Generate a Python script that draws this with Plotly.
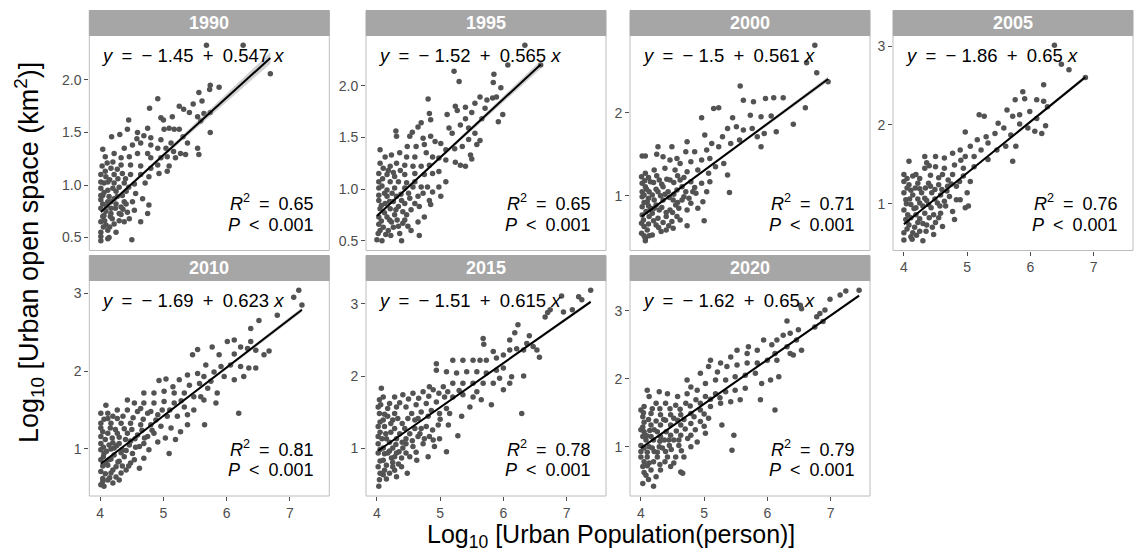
import numpy as np
import plotly.graph_objects as go

# ---------------- data ----------------
years = ["1990", "1995", "2000", "2005", "2010", "2015", "2020"]
intercepts = [-1.45, -1.52, -1.5, -1.86, -1.69, -1.51, -1.62]
slopes = [0.547, 0.565, 0.561, 0.65, 0.623, 0.615, 0.65]
r_squared = ["0.65", "0.65", "0.71", "0.76", "0.81", "0.78", "0.79"]
p_values = ["0.001"] * 7
ci_end = [0.055, 0.04, 0.03, 0.025, 0.03, 0.025, 0.02]   # half-width of the grey band at the right end
x_ticks = [4, 5, 6, 7]

pts_1990 = [(6.69,2.06),(5.68,2.33),(6.26,2.33),(5.88,1.93),(5.74,1.95),(5.73,1.91),(5.56,1.88),(5.61,1.80),(4.91,1.82),(5.47,1.77),
(5.25,1.75),(5.32,1.72),(4.78,1.73),(5.74,1.69),(5.64,1.68),(5.41,1.69),(4.96,1.64),(5.0,1.62),(5.14,1.65),(5.54,1.65),(5.59,1.61),
(4.45,1.62),(4.18,1.46),(4.31,1.48),(4.43,1.53),(4.59,1.50),(4.75,1.54),(4.58,1.44),(4.69,1.47),(4.8,1.45),(5.01,1.53),(5.09,1.54),
(5.17,1.53),(5.25,1.53),(4.96,1.43),(5.74,1.50),(5.31,1.46),(5.38,1.40),(5.54,1.35),(5.56,1.29),(5.35,1.29),(5.12,1.40),(5.04,1.35),
(4.04,1.34),(4.11,1.21),(4.22,1.30),(4.38,1.35),(4.51,1.38),(4.64,1.40),(4.80,1.38),(4.91,1.35),(4.75,1.30),(4.59,1.30),(4.46,1.27),
(4.33,1.26),(4.80,1.26),(4.96,1.26),(5.06,1.27),(5.19,1.26),(5.27,1.30),(5.16,1.32),(5.09,1.18),(4.91,1.19),(4.80,1.16),(4.64,1.18),
(4.48,1.19),(4.33,1.19),(4.17,1.16),(4.01,1.10),(4.09,1.08),(4.22,1.10),(4.35,1.11),(4.48,1.10),(4.64,1.10),(4.77,1.08),(4.93,1.11),
(5.06,1.13),(4.71,1.02),(4.54,1.01),(4.38,1.02),(4.22,1.02),(4.06,1.02),(4.01,0.97),(4.12,0.95),(4.25,0.94),(4.41,0.94),(4.56,0.92),
(4.67,0.87),(4.77,0.81),(4.75,0.73),(4.64,0.65),(4.51,0.84),(4.38,0.84),(4.25,0.82),(4.12,0.84),(4.01,0.86),(4.01,0.78),(4.06,0.71),
(4.17,0.73),(4.30,0.73),(4.43,0.74),(4.54,0.76),(4.01,0.65),(4.09,0.62),(4.22,0.63),(4.38,0.65),(4.12,0.57),(4.25,0.55),(4.01,0.47),
(4.12,0.49),(4.50,0.48),(4.14,0.50),(4.04,0.90),(4.14,0.89),(4.27,0.89),(4.04,0.82),(4.17,0.78),(4.33,0.79),(4.46,0.68),(4.04,0.70),
(4.19,0.68),(4.01,0.55),(4.17,0.84),(4.01,1.03),(4.12,1.03),(4.30,0.98),(4.01,0.90),(4.09,0.75),(4.22,0.87),(4.33,0.72),(4.01,0.51),
(4.07,0.66),(4.03,1.18),(4.08,1.13),(4.15,1.05),(4.20,0.97),(4.28,1.06),(4.35,0.90),(4.41,0.82),(4.06,0.93),(4.10,0.80),(4.24,0.78),
(4.30,0.66),(4.15,0.60),(4.05,0.60),(4.20,1.22),(4.27,1.15),(4.40,1.06),(4.45,0.98),(4.36,0.77),(4.08,1.27),(4.16,0.70)]

pts_1995 = [(6.34,2.39),(6.07,2.20),(6.59,2.20),(5.22,2.14),(5.30,2.04),(5.85,2.11),(5.84,2.03),(5.96,1.98),(4.81,1.87),(5.24,1.80),
(5.40,1.79),(5.11,1.72),(5.55,1.83),(5.63,1.89),(5.74,1.86),(5.83,1.88),(5.89,1.89),(5.50,1.74),(5.71,1.78),(5.66,1.68),(5.99,1.72),
(5.92,1.65),(5.40,1.68),(5.27,1.76),(4.83,1.73),(4.85,1.67),(4.70,1.64),(4.56,1.55),(4.30,1.56),(4.31,1.51),(4.52,1.51),(4.65,1.60),
(5.14,1.59),(5.19,1.54),(5.32,1.62),(5.45,1.59),(5.55,1.54),(5.63,1.47),(5.58,1.43),(5.45,1.48),(4.85,1.51),(4.73,1.49),(4.92,1.46),
(4.48,1.41),(4.62,1.41),(4.75,1.43),(5.01,1.44),(5.09,1.38),(5.23,1.39),(5.35,1.41),(5.48,1.33),(5.50,1.29),(5.24,1.26),(5.32,1.23),
(5.40,1.22),(4.05,1.38),(4.05,1.25),(4.13,1.31),(4.23,1.33),(4.36,1.35),(4.47,1.31),(4.60,1.31),(4.78,1.35),(4.88,1.31),(4.98,1.30),
(5.09,1.28),(4.83,1.23),(4.70,1.22),(4.57,1.22),(4.44,1.23),(4.31,1.25),(4.21,1.22),(4.10,1.20),(4.03,1.15),(4.16,1.14),(4.28,1.12),
(4.44,1.14),(4.60,1.15),(4.75,1.14),(4.88,1.15),(4.98,1.17),(5.09,1.07),(4.98,1.02),(4.88,0.97),(5.01,0.93),(4.83,0.89),(4.85,0.85),
(4.75,0.73),(4.65,0.68),(4.54,0.60),(4.67,0.55),(4.39,0.50),(4.0,0.51),(4.08,0.50),(4.05,0.60),(4.18,0.60),(4.34,0.64),(4.44,0.70),
(4.03,0.73),(4.16,0.73),(4.28,0.75),(4.41,0.78),(4.54,0.80),(4.67,0.83),(4.03,0.89),(4.13,0.86),(4.26,0.88),(4.39,0.89),(4.52,0.91),
(4.65,0.93),(4.03,1.01),(4.16,0.99),(4.28,1.01),(4.44,1.01),(4.57,1.02),(4.70,1.02),(4.80,1.02),(4.03,1.07),(4.05,0.81),(4.10,0.63),
(4.21,0.81),(4.34,0.83),(4.44,0.86),(4.60,1.07),(4.34,1.07),(4.21,1.07),(4.03,0.94),(4.16,0.93),(4.03,0.66),(4.23,0.68),(4.36,0.57),
(4.49,0.64),(4.73,0.96),(4.60,0.86),(4.08,1.03),(4.12,0.96),(4.20,0.88),(4.24,0.96),(4.31,0.93),(4.38,0.95),(4.07,0.84),(4.12,0.77),
(4.20,0.70),(4.26,0.63),(4.32,0.70),(4.07,0.69),(4.14,0.56),(4.22,0.55),(4.09,1.10),(4.18,1.18),(4.26,1.16),(4.37,1.18),(4.47,1.06),
(4.50,0.96),(4.41,0.67),(4.30,0.80),(4.02,0.57),(4.47,0.75)]

pts_2000 = [(6.75,2.81),(6.62,2.60),(6.78,2.48),(6.96,2.37),(6.60,2.06),(6.41,1.86),(5.57,2.32),(5.62,2.15),(5.78,2.13),(5.97,2.17),
(6.10,2.18),(6.25,2.18),(5.15,2.05),(5.23,2.06),(4.96,1.94),(5.45,1.94),(5.73,1.97),(5.90,1.95),(6.06,1.96),(6.14,1.77),(5.95,1.75),
(5.90,1.59),(5.37,1.81),(5.51,1.83),(5.62,1.79),(5.76,1.81),(5.84,1.71),(5.56,1.67),(5.42,1.63),(5.29,1.71),(5.23,1.59),(5.01,1.73),
(5.12,1.63),(5.04,1.55),(4.85,1.53),(4.73,1.65),(4.71,1.53),(4.57,1.45),(4.27,1.59),(4.49,1.59),(4.02,1.48),(4.07,1.48),(4.25,1.50),
(4.35,1.47),(4.46,1.43),(4.62,1.39),(4.79,1.41),(4.96,1.43),(5.09,1.45),(5.18,1.35),(5.31,1.39),(5.37,1.25),(5.40,1.04),(5.07,1.27),
(4.90,1.31),(4.73,1.29),(4.54,1.31),(4.38,1.33),(4.21,1.31),(4.07,1.27),(4.02,1.15),(4.15,1.17),(4.29,1.19),(4.46,1.19),(4.62,1.19),
(4.79,1.17),(4.96,1.15),(5.09,1.17),(5.04,1.05),(4.87,1.03),(4.71,1.05),(4.57,1.07),(4.43,1.05),(4.27,1.05),(4.13,1.05),(4.02,0.99),
(4.10,0.93),(4.21,0.95),(4.35,0.95),(4.51,0.95),(4.65,0.95),(4.79,0.91),(4.98,0.93),(4.90,0.85),(4.73,0.83),(4.60,0.85),(4.46,0.83),
(4.29,0.83),(4.15,0.85),(4.02,0.87),(4.02,0.77),(4.13,0.75),(4.27,0.73),(4.40,0.75),(4.57,0.75),(4.49,0.69),(5.0,0.70),(4.73,0.64),
(4.40,0.59),(4.24,0.65),(4.10,0.59),(4.01,0.67),(4.07,0.49),(4.01,0.55),(4.07,0.46),(4.18,0.53),(4.32,0.57),(4.07,1.11),(4.01,1.23),
(4.35,1.11),(4.65,1.11),(4.02,1.05),(4.21,0.85),(4.04,0.71),(4.15,0.83),(4.51,0.61),(4.62,0.71),(4.05,1.01),(4.09,1.08),(4.12,0.97),
(4.18,1.01),(4.24,1.08),(4.31,1.00),(4.38,1.02),(4.45,0.98),(4.52,1.02),(4.58,0.92),(4.68,0.99),(4.05,0.92),(4.08,0.81),(4.12,0.88),
(4.18,0.79),(4.24,0.89),(4.33,0.86),(4.40,0.80),(4.50,0.80),(4.55,0.89),(4.05,0.63),(4.12,0.66),(4.20,0.70),(4.28,0.62),(4.35,0.68),
(4.44,0.64),(4.05,0.52),(4.13,0.52),(4.06,1.18),(4.12,1.22),(4.20,1.16),(4.25,1.24),(4.33,1.14),(4.41,1.20),(4.52,1.16),(4.58,1.24),
(4.68,1.22),(4.82,1.05),(4.76,0.97),(4.85,1.10)]

pts_2005 = [(6.38,3.01),(6.49,2.77),(6.61,2.70),(6.21,2.51),(5.88,2.42),(5.76,2.32),(5.91,2.33),(6.10,2.32),(6.21,2.30),(6.27,2.23),
(5.19,2.13),(5.27,2.11),(4.97,1.91),(5.63,2.19),(5.72,2.11),(5.83,2.13),(5.99,2.17),(6.10,2.08),(6.24,1.99),(5.96,1.96),(6.07,1.92),
(6.18,1.89),(5.83,2.01),(5.49,2.02),(5.58,1.96),(5.44,1.89),(5.69,1.87),(5.77,1.73),(5.61,1.73),(5.30,1.85),(5.16,1.81),(5.33,1.77),
(5.47,1.68),(5.22,1.68),(5.05,1.73),(4.89,1.68),(4.77,1.64),(4.97,1.60),(5.11,1.60),(5.33,1.56),(5.72,1.54),(5.11,1.47),(4.94,1.45),
(4.80,1.49),(4.64,1.58),(4.50,1.60),(4.33,1.60),(4.36,1.52),(4.08,1.54),(4.0,1.37),(4.19,1.37),(4.33,1.45),(4.50,1.47),(4.64,1.45),
(4.77,1.37),(4.94,1.35),(5.05,1.28),(5.00,1.14),(4.89,1.05),(4.97,0.95),(5.02,0.97),(4.80,0.80),(4.77,0.90),(4.66,0.97),(4.83,1.22),
(4.69,1.22),(4.55,1.24),(4.39,1.26),(4.22,1.26),(4.08,1.24),(4.0,1.14),(4.14,1.11),(4.28,1.14),(4.44,1.14),(4.58,1.11),(4.72,1.09),
(4.53,1.01),(4.39,0.99),(4.25,1.01),(4.11,0.99),(4.0,0.92),(4.06,0.86),(4.19,0.86),(4.33,0.88),(4.47,0.86),(4.58,0.88),(4.50,0.76),
(4.36,0.73),(4.22,0.76),(4.08,0.73),(4.0,0.63),(4.14,0.63),(4.30,0.53),(4.47,0.61),(4.0,0.54),(4.11,0.58),(4.25,0.65),(4.03,1.05),
(4.03,0.80),(4.61,0.71),(4.83,1.05),(4.0,1.28),(4.14,1.35),(4.61,1.37),(4.33,1.07),(4.19,0.95),(6.87,2.60),(4.04,1.00),(4.09,1.06),
(4.16,0.94),(4.22,1.06),(4.30,0.97),(4.36,1.04),(4.43,0.95),(4.49,1.06),(4.57,0.97),(4.64,1.03),(4.05,0.77),(4.11,0.82),(4.17,0.70),
(4.25,0.81),(4.30,0.75),(4.40,0.82),(4.45,0.70),(4.55,0.82),(4.05,0.68),(4.13,0.55),(4.20,0.60),(4.35,0.65),(4.05,1.20),(4.11,1.17),
(4.18,1.20),(4.25,1.19),(4.34,1.20),(4.42,1.22),(4.49,1.18),(4.60,1.18),(4.68,1.16),(4.75,1.25),(4.88,1.28),(4.05,1.32),(4.25,1.32),
(4.42,1.36),(4.55,1.33),(4.70,1.30),(4.40,1.48),(4.90,1.55)]

pts_2010 = [(7.14,3.04),(7.06,2.95),(7.19,2.85),(6.80,2.72),(6.51,2.65),(6.38,2.55),(6.67,2.26),(6.46,2.04),(6.19,1.46),(5.54,2.28),
(5.46,2.21),(5.04,1.90),(4.93,1.88),(5.77,2.31),(6.01,2.38),(6.12,2.40),(6.22,2.31),(6.33,2.29),(6.46,2.27),(6.59,2.21),(6.38,2.38),
(6.12,2.22),(5.88,2.21),(5.91,2.06),(6.06,2.08),(6.22,2.06),(6.35,2.04),(6.27,1.93),(6.12,1.89),(5.96,1.93),(5.80,1.99),(5.67,2.08),
(5.54,1.97),(5.38,1.95),(5.25,1.89),(5.15,1.80),(5.41,1.82),(5.57,1.84),(5.70,1.78),(5.85,1.72),(5.83,1.59),(5.64,1.63),(5.48,1.67),
(5.33,1.72),(5.17,1.72),(5.01,1.74),(4.85,1.72),(4.69,1.72),(4.43,1.63),(4.54,1.59),(4.69,1.59),(4.85,1.59),(5.01,1.61),(5.17,1.59),
(5.33,1.54),(5.48,1.50),(5.65,1.31),(5.38,1.44),(5.22,1.42),(5.06,1.42),(4.91,1.44),(4.75,1.46),(4.59,1.48),(4.43,1.50),(4.27,1.50),
(4.12,1.46),(4.01,1.46),(4.09,1.56),(4.01,1.33),(4.17,1.33),(4.33,1.33),(4.48,1.33),(4.64,1.31),(4.80,1.31),(4.96,1.29),(5.12,1.27),
(5.27,1.22),(5.09,0.94),(4.91,1.09),(4.75,1.16),(4.59,1.18),(4.43,1.20),(4.27,1.20),(4.12,1.20),(4.01,1.16),(4.01,1.07),(4.14,1.05),
(4.30,1.07),(4.46,1.05),(4.62,1.03),(4.77,0.99),(4.69,0.88),(4.62,0.75),(4.54,0.86),(4.38,0.90),(4.22,0.92),(4.06,0.94),(4.01,0.86),
(4.12,0.79),(4.25,0.77),(4.41,0.73),(4.01,0.71),(4.04,0.62),(4.12,0.60),(4.25,0.64),(4.01,0.54),(4.06,0.52),(4.17,0.69),(4.33,0.69),
(4.48,0.82),(4.01,1.27),(4.01,0.99),(4.19,1.14),(4.35,0.99),(4.51,0.94),(4.69,1.07),(4.85,1.20),(5.03,1.14),(5.19,1.12),(5.38,1.31),
(5.59,1.67),(5.75,1.87),(5.64,1.93),(4.12,1.39),(4.27,1.39),(4.14,0.86),(4.22,1.01),(4.30,0.84),(4.04,1.22),(4.08,1.12),(4.16,1.27),
(4.20,1.08),(4.24,1.25),(4.30,1.15),(4.38,1.26),(4.40,1.12),(4.50,1.25),(4.55,1.13),(4.66,1.24),(4.70,1.14),(4.82,1.24),(4.88,1.37),
(4.05,1.02),(4.10,0.97),(4.17,1.00),(4.26,1.04),(4.33,0.95),(4.41,0.98),(4.48,1.10),(4.56,1.02),(4.05,0.90),(4.09,0.82),(4.17,0.87),
(4.20,0.73),(4.28,0.83),(4.35,0.78),(4.45,0.78),(4.04,0.78),(4.08,0.68),(4.15,0.63),(4.20,0.56),(4.30,0.60),(4.04,0.58),(4.06,1.38),
(4.20,1.42),(4.36,1.42),(4.52,1.40),(4.68,1.38),(4.98,1.50),(5.10,1.50),(5.28,1.62),(4.64,1.52),(4.80,1.48)]

pts_2015 = [(7.38,3.19),(7.19,3.10),(7.24,3.06),(6.92,3.11),(6.74,2.92),(6.70,2.88),(6.66,2.82),(6.95,2.89),(7.09,2.92),(5.68,2.52),
(5.69,2.44),(6.29,1.48),(6.32,2.00),(6.13,1.99),(6.10,1.90),(6.57,2.26),(6.41,2.56),(6.23,2.71),(6.18,2.60),(6.10,2.50),(6.37,2.45),
(6.47,2.41),(6.53,2.36),(6.32,2.36),(6.21,2.38),(6.10,2.36),(6.00,2.29),(5.89,2.25),(5.84,2.34),(5.73,2.22),(5.63,2.22),(5.52,2.22),
(5.36,2.22),(5.20,2.22),(4.94,2.17),(4.94,2.08),(4.83,1.85),(5.10,2.06),(5.26,2.04),(5.42,2.06),(5.58,2.06),(5.73,2.04),(5.89,2.08),
(6.00,2.11),(5.94,1.97),(6.00,1.81),(5.84,1.90),(5.68,1.90),(5.52,1.90),(5.36,1.90),(5.20,1.90),(5.05,1.85),(4.89,1.81),(4.73,1.78),
(4.57,1.76),(4.41,1.74),(4.28,1.71),(4.07,1.83),(4.04,1.67),(4.10,1.71),(4.02,1.57),(5.81,1.60),(5.65,1.67),(5.52,1.71),(5.36,1.74),
(5.20,1.71),(5.07,1.71),(4.94,1.64),(4.78,1.62),(4.62,1.60),(4.46,1.57),(4.31,1.57),(4.17,1.55),(4.04,1.48),(4.17,1.44),(4.33,1.41),
(4.49,1.41),(4.65,1.41),(4.81,1.44),(4.99,1.48),(5.15,1.48),(5.34,1.44),(5.13,1.32),(4.97,1.32),(4.78,1.30),(4.60,1.27),(4.44,1.27),
(4.28,1.27),(4.12,1.30),(4.02,1.30),(4.02,1.16),(4.15,1.13),(4.31,1.13),(4.46,1.13),(4.65,1.16),(4.83,1.16),(4.99,1.13),(4.91,1.02),
(5.10,0.95),(5.28,1.17),(4.81,0.88),(4.63,0.83),(4.48,0.65),(4.73,1.06),(4.57,1.02),(4.41,1.00),(4.25,1.00),(4.10,1.00),(4.02,0.93),
(4.10,0.83),(4.23,0.86),(4.39,0.86),(4.52,0.88),(4.02,0.74),(4.12,0.69),(4.28,0.69),(4.39,0.74),(4.04,0.56),(4.10,0.63),(4.03,0.47),
(4.20,0.65),(4.31,0.60),(4.60,1.39),(4.02,1.06),(4.17,0.93),(4.31,0.93),(4.46,1.06),(4.25,1.39),(4.10,1.39),(4.68,1.20),(4.89,1.11),
(5.10,1.55),(5.47,1.57),(5.58,1.78),(4.05,1.22),(4.08,1.13),(4.14,1.20),(4.20,1.08),(4.22,1.22),(4.30,1.05),(4.36,1.20),(4.40,1.08),
(4.52,1.20),(4.56,1.10),(4.70,1.27),(4.75,1.13),(4.88,1.25),(5.00,1.40),(4.05,1.36),(4.12,1.47),(4.22,1.34),(4.28,1.48),(4.40,1.34),
(4.55,1.48),(4.70,1.50),(4.86,1.52),(4.05,0.98),(4.12,0.92),(4.20,0.96),(4.28,0.88),(4.35,0.95),(4.46,0.93),(4.62,0.94),(4.05,0.82),
(4.15,0.76),(4.25,0.80),(4.34,0.78),(4.05,0.65),(4.15,0.57),(4.25,0.74),(4.06,1.60),(4.20,1.62),(4.36,1.63),(4.50,1.68),(4.66,1.69),
(4.82,1.72),(4.98,1.76),(5.12,1.78),(5.30,1.80)]

pts_2020 = [(7.45,3.30),(7.24,3.29),(7.15,3.23),(6.99,3.17),(6.91,3.01),(6.83,2.96),(6.78,2.91),(6.54,3.03),(6.52,3.08),(6.88,2.84),
(6.75,2.76),(6.31,2.85),(6.12,1.54),(6.18,2.03),(6.05,1.98),(5.91,1.93),(5.89,1.69),(5.47,1.17),(5.44,0.95),(5.28,1.32),(6.49,2.72),
(6.36,2.67),(6.25,2.64),(6.15,2.57),(6.46,2.57),(6.31,2.47),(6.54,2.42),(6.41,2.35),(6.36,2.37),(6.07,2.50),(5.94,2.57),(5.84,2.42),
(5.70,2.47),(5.68,2.37),(5.52,2.42),(5.42,2.32),(5.26,2.23),(5.10,2.27),(5.07,2.18),(4.73,1.98),(4.79,1.88),(4.94,2.08),(5.21,2.10),
(5.36,2.18),(5.52,2.20),(5.68,2.23),(5.84,2.23),(6.00,2.27),(6.15,2.27),(6.12,2.37),(5.81,2.08),(5.65,2.05),(5.49,2.03),(5.34,1.98),
(5.18,1.98),(5.02,1.93),(4.89,1.83),(4.73,1.78),(4.58,1.74),(4.42,1.78),(4.29,1.81),(4.10,1.83),(4.13,1.74),(4.0,1.54),(4.05,1.59),
(4.24,1.64),(4.39,1.64),(4.55,1.61),(4.71,1.64),(4.87,1.69),(5.02,1.74),(5.18,1.78),(5.34,1.81),(5.49,1.83),(5.65,1.86),(5.57,1.69),
(5.42,1.66),(5.26,1.64),(5.10,1.59),(4.94,1.54),(4.79,1.49),(4.63,1.47),(4.47,1.47),(4.31,1.47),(4.16,1.49),(4.03,1.44),(4.03,1.29),
(4.16,1.32),(4.31,1.32),(4.47,1.32),(4.63,1.32),(4.79,1.34),(4.94,1.37),(5.07,1.42),(5.02,1.20),(4.79,1.17),(4.63,1.17),(4.47,1.17),
(4.31,1.15),(4.16,1.15),(4.03,1.15),(4.0,1.02),(4.13,1.00),(4.29,1.00),(4.45,1.02),(4.60,1.02),(4.79,1.00),(4.68,0.85),(4.55,0.85),
(4.42,0.85),(4.26,0.85),(4.10,0.85),(4.0,0.85),(4.03,0.71),(4.16,0.66),(4.31,0.66),(4.47,0.71),(4.63,0.63),(4.24,0.56),(4.03,0.46),
(4.20,0.42),(4.08,0.58),(4.66,0.61),(4.0,1.25),(4.0,0.93),(4.08,1.10),(4.21,0.93),(4.37,1.10),(4.52,1.10),(4.39,0.93),(4.21,1.25),
(4.39,1.39),(4.58,1.39),(4.52,0.76),(4.13,0.76),(4.89,1.07),(4.05,1.22),(4.09,1.16),(4.14,1.24),(4.20,1.10),(4.26,1.22),(4.30,1.08),
(4.40,1.22),(4.44,1.10),(4.56,1.23),(4.60,1.10),(4.70,1.26),(4.74,1.12),(4.86,1.25),(5.00,1.30),(4.05,1.36),(4.12,1.40),(4.24,1.38),
(4.36,1.40),(4.52,1.42),(4.68,1.40),(4.84,1.44),(5.00,1.48),(4.05,0.98),(4.10,0.92),(4.18,0.98),(4.26,0.92),(4.34,0.98),(4.48,0.96),
(4.64,0.94),(4.05,0.78),(4.10,0.72),(4.20,0.78),(4.30,0.74),(4.38,0.78),(4.05,0.62),(4.12,0.52),(4.04,1.50),(4.18,1.56),(4.30,1.56),
(4.46,1.56),(4.62,1.55),(4.78,1.60),(4.94,1.64),(5.10,1.70),(5.25,1.72)]

points = [pts_1990, pts_1995, pts_2000, pts_2005, pts_2010, pts_2015, pts_2020]

# ---------------- layout (pixels in a 1138 x 553 canvas) ----------------
W, H = 1138, 553
panel_px = [  # left, right, top, bottom of each plotting area
    (89.3, 329.3, 35.5, 250.5), (366, 606, 35.5, 250.5), (630, 870, 35.5, 250.5), (893, 1133, 35.5, 250.5),
    (89.3, 329.3, 280.5, 496), (366, 606, 280.5, 496), (630, 870, 280.5, 496)]
strip_h = 25
bottom_axis = [False, False, False, True, True, True, True]
FONT = "Liberation Sans, Arial, sans-serif"
PT_COLOR = "#535353"
STRIP_COLOR = "#a6a6a6"
BORDER_COLOR = "#bcbcbc"
TICK_COLOR = "#4d4d4d"

all_x = np.concatenate([[p[0] for p in pts] for pts in points])
xmin, xmax = all_x.min(), all_x.max()
xpad = 0.05 * (xmax - xmin)
xrange_ = [xmin - xpad, xmax + xpad]

fig = go.Figure()
shapes, annotations = [], []
SP = "\u2002"

for i, yr in enumerate(years):
    k = i + 1
    ax = "" if k == 1 else str(k)
    pts = points[i]
    xs = np.array([p[0] for p in pts])
    ys = np.array([p[1] for p in pts])

    fig.add_trace(go.Scatter(x=xs, y=ys, mode="markers", xaxis="x" + ax, yaxis="y" + ax,
                             marker=dict(size=5.5, color=PT_COLOR, line=dict(width=0)),
                             showlegend=False, hoverinfo="skip"))

    # fitted line and confidence band (lm style)
    lx = np.linspace(xs.min(), xs.max(), 80)
    ly = intercepts[i] + slopes[i] * lx
    n = len(xs)
    xbar = xs.mean()
    sxx = ((xs - xbar) ** 2).sum()
    lev = 1.0 / n + (lx - xbar) ** 2 / sxx
    lev_end = 1.0 / n + (xs.max() - xbar) ** 2 / sxx
    hw = ci_end[i] * np.sqrt(lev / lev_end)
    fig.add_trace(go.Scatter(x=np.concatenate([lx, lx[::-1]]),
                             y=np.concatenate([ly + hw, (ly - hw)[::-1]]),
                             mode="lines", fill="toself", fillcolor="rgba(153,153,153,0.45)",
                             line=dict(width=0), xaxis="x" + ax, yaxis="y" + ax,
                             showlegend=False, hoverinfo="skip"))
    fig.add_trace(go.Scatter(x=lx, y=ly, mode="lines", line=dict(color="black", width=2),
                             xaxis="x" + ax, yaxis="y" + ax, showlegend=False, hoverinfo="skip"))

    l, r, t, b = panel_px[i]
    ypad = 0.05 * (ys.max() - ys.min())
    yr_range = [ys.min() - ypad, ys.max() + ypad]
    dt = 0.5 if i < 2 else 1
    fmt = ".1f" if i < 2 else "d"

    fig.update_layout(**{
        "xaxis" + ax: dict(domain=[l / W, r / W], range=xrange_, anchor="y" + ax,
                           showgrid=False, zeroline=False, showline=False,
                           tickvals=x_ticks, ticks="outside" if bottom_axis[i] else "",
                           ticklen=4, tickcolor=TICK_COLOR, tickwidth=1,
                           showticklabels=bottom_axis[i],
                           tickfont=dict(family=FONT, size=14, color=TICK_COLOR)),
        "yaxis" + ax: dict(domain=[1 - b / H, 1 - t / H], range=yr_range, anchor="x" + ax,
                           showgrid=False, zeroline=False, showline=False,
                           dtick=dt, tick0=0, tickformat=fmt, ticks="outside",
                           ticklen=4, tickcolor=TICK_COLOR, tickwidth=1,
                           tickfont=dict(family=FONT, size=14, color=TICK_COLOR)),
    })

    # panel border and strip
    shapes.append(dict(type="rect", xref="paper", yref="paper", x0=l / W, x1=r / W,
                       y0=1 - b / H, y1=1 - t / H, line=dict(color=BORDER_COLOR, width=1),
                       fillcolor="rgba(0,0,0,0)", layer="above"))
    shapes.append(dict(type="rect", xref="paper", yref="paper", x0=l / W, x1=r / W,
                       y0=1 - t / H, y1=1 - (t - strip_h) / H, line=dict(color=STRIP_COLOR, width=1),
                       fillcolor=STRIP_COLOR, layer="above"))
    annotations.append(dict(xref="paper", yref="paper", x=(l + r) / 2 / W, y=1 - (t - strip_h / 2) / H,
                            text="<b>" + yr + "</b>", showarrow=False, xanchor="center", yanchor="middle",
                            font=dict(family=FONT, size=18, color="white")))

    b0, b1 = intercepts[i], slopes[i]
    sign = "\u2212" if b0 < 0 else ""
    eq = f"<i>y</i>{SP}={SP}{sign} {abs(b0):g}{SP}+{SP}{b1:g} <i>x</i>"
    annotations.append(dict(xref="x" + ax + " domain", yref="y" + ax + " domain", x=0, y=1,
                            xanchor="left", yanchor="middle", xshift=10, yshift=-20,
                            text=eq, showarrow=False, font=dict(family=FONT, size=18.5, color="black")))
    annotations.append(dict(xref="x" + ax + " domain", yref="y" + ax + " domain", x=1, y=0,
                            xanchor="right", yanchor="middle", xshift=-13, yshift=48,
                            text=f"<i>R</i><sup>2</sup>{SP}={SP}{r_squared[i]}", showarrow=False,
                            font=dict(family=FONT, size=18, color="black")))
    annotations.append(dict(xref="x" + ax + " domain", yref="y" + ax + " domain", x=1, y=0,
                            xanchor="right", yanchor="middle", xshift=-13, yshift=26,
                            text=f"<i>P</i>{SP}&lt;{SP}{p_values[i]}", showarrow=False,
                            font=dict(family=FONT, size=18, color="black")))

annotations.append(dict(xref="paper", yref="paper", x=611 / W, y=1 - 536 / H,
                        text="Log<sub>10</sub> [Urban Population(person)]", showarrow=False,
                        xanchor="center", yanchor="middle",
                        font=dict(family=FONT, size=25, color="black")))
annotations.append(dict(xref="paper", yref="paper", x=29 / W, y=1 - 253 / H,
                        text="Log<sub>10</sub> [Urban open space (km<sup>2</sup>)]", showarrow=False,
                        textangle=-90, xanchor="center", yanchor="middle",
                        font=dict(family=FONT, size=27, color="black")))

fig.update_layout(width=W, height=H, autosize=False, margin=dict(l=0, r=0, t=0, b=0),
                  paper_bgcolor="white", plot_bgcolor="white", shapes=shapes, annotations=annotations,
                  showlegend=False)

fig.write_html("out.html", include_plotlyjs=True, config={"displayModeBar": False},
               post_script="document.body.style.margin='0';document.body.style.overflow='hidden';")
